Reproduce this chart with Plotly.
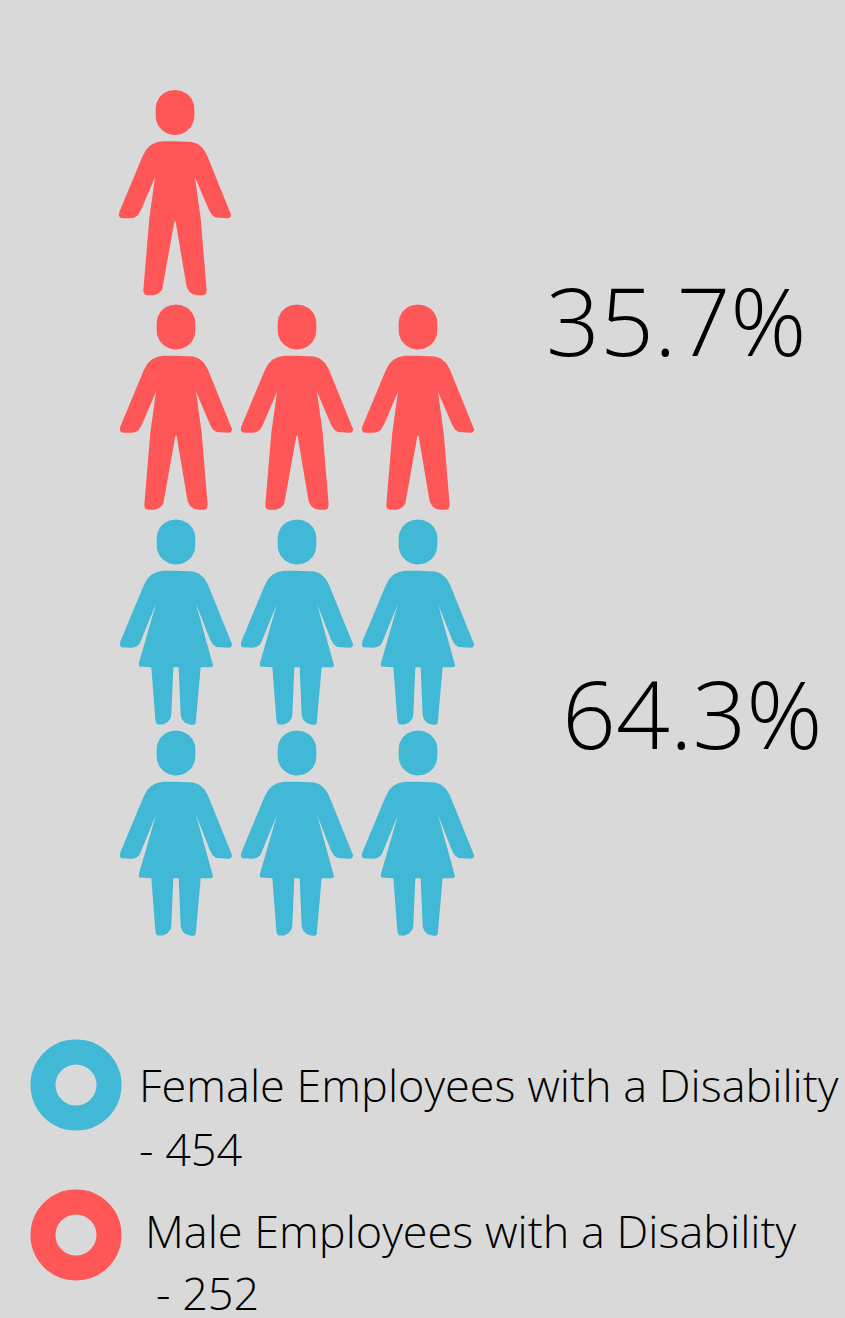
import plotly.graph_objects as go

# ---- data ----
groups = ["Female", "Male"]
employees = [454, 252]
shares = ["64.3%", "35.7%"]
icon_counts = [6, 4]
legend_lines = [["Female Employees with a Disability", "- 454"],
                ["Male Employees with a Disability", "- 252"]]

# ---- style / layout ----
BG = "#d9d9d9"
BLUE = "#41b8d5"
RED = "#ff5757"
FONT = "Open Sans"
WEIGHT = 300
W, H = 845, 1318
COLS = [176, 297, 418]
FEMALE_ROWS = [519.5, 730.5]
MALE_ROWS = [304.5, 90]


def bez(p0, p1, p2, p3, n=24):
    out = []
    for i in range(1, n + 1):
        t = i / n
        a, b, c, d = (1 - t) ** 3, 3 * t * (1 - t) ** 2, 3 * t * t * (1 - t), t ** 3
        out.append((a * p0[0] + b * p1[0] + c * p2[0] + d * p3[0],
                    a * p0[1] + b * p1[1] + c * p2[1] + d * p3[1]))
    return out


def half(segments):
    """segments: start point then items of (pt) or (c1,c2,pt)"""
    pts = [segments[0]]
    for s in segments[1:]:
        if len(s) == 3:
            pts += bez(pts[-1], s[0], s[1], s[2])
        else:
            pts.append(s)
    return pts


# Right-hand half outlines, in 1/3 px, measured from icon axis; y from head top
HEAD = half([(0, 0), ((32, 0), (58, 24), (58, 56)), (58, 78), ((58, 110), (32, 135), (0, 135))])
SHOULDER = [(0, 154), (34, 154), ((62, 154), (84, 166), (97, 198)),
            (167, 366), ((171, 376), (168, 385), (156, 385)), (134, 385),
            ((118, 385), (109, 376), (102, 360))]
MALE_BODY = half(SHOULDER + [(60, 262), (74, 365), (77, 385), (95, 600),
                             ((95, 611), (92, 616), (82, 616)), (70, 616),
                             ((52, 616), (37, 605), (34, 585)), (2, 395), (0, 393)])
FEMALE_BODY = half(SHOULDER + [(60, 253), (111, 430), ((113, 438), (111, 443), (103, 443)),
                               (74, 443), (62, 600), ((60, 612), (58, 616), (50, 616)),
                               ((27, 616), (14, 600), (14, 585)), (8, 443), (0, 443)])


def icon_xy(cx, top, body):
    xs, ys = [], []
    for part in (HEAD, body):
        full = part + [(-x, y) for x, y in reversed(part)]
        xs += [cx + x / 3 for x, _ in full] + [None]
        ys += [top + y / 3 for _, y in full] + [None]
    return xs, ys


def figure_trace(rows, body, color, count, name):
    xs, ys = [], []
    cells = [(c, r) for r in rows for c in COLS]
    # the top male row only holds one figure, in the first column
    if count < len(cells):
        cells = cells[:3] + [(175, rows[1])]
    for cx, top in cells[:count]:
        x, y = icon_xy(cx, top, body)
        xs += x
        ys += y
    return go.Scatter(x=xs, y=ys, mode="lines", fill="toself", fillcolor=color,
                      line=dict(width=0), name=name, hoverinfo="skip")


fig = go.Figure()
fig.add_trace(figure_trace(FEMALE_ROWS, FEMALE_BODY, BLUE, icon_counts[0], groups[0]))
fig.add_trace(figure_trace(MALE_ROWS, MALE_BODY, RED, icon_counts[1], groups[1]))

# legend rings
fig.add_trace(go.Scatter(x=[76, 76], y=[1085, 1235], mode="markers", hoverinfo="skip",
                         marker=dict(size=66, color=BG, line=dict(width=25, color=[BLUE, RED]))))

def label(x, y, text, size):
    fig.add_annotation(x=x, y=y, text=text, showarrow=False, xanchor="left", yanchor="middle",
                       xref="x", yref="y", align="left",
                       font=dict(family=FONT, size=size, color="#000000", weight=WEIGHT))

label(544, 319, shares[1], 94.5)
label(559.5, 712, shares[0], 94.5)
label(137, 1084, legend_lines[0][0], 45)
label(137, 1148, legend_lines[0][1], 45)
label(142.5, 1230, legend_lines[1][0], 45)
label(154, 1292.5, legend_lines[1][1], 45)

fig.update_layout(width=W, height=H, margin=dict(l=0, r=0, t=0, b=0), showlegend=False,
                  paper_bgcolor=BG, plot_bgcolor=BG,
                  xaxis=dict(range=[0, W], visible=False, fixedrange=True),
                  yaxis=dict(range=[H, 0], visible=False, fixedrange=True))
fig.write_html("out.html", config={"displayModeBar": False},
               default_width=W, default_height=H,
               post_script="document.body.style.margin='0';document.body.style.overflow='hidden';")
